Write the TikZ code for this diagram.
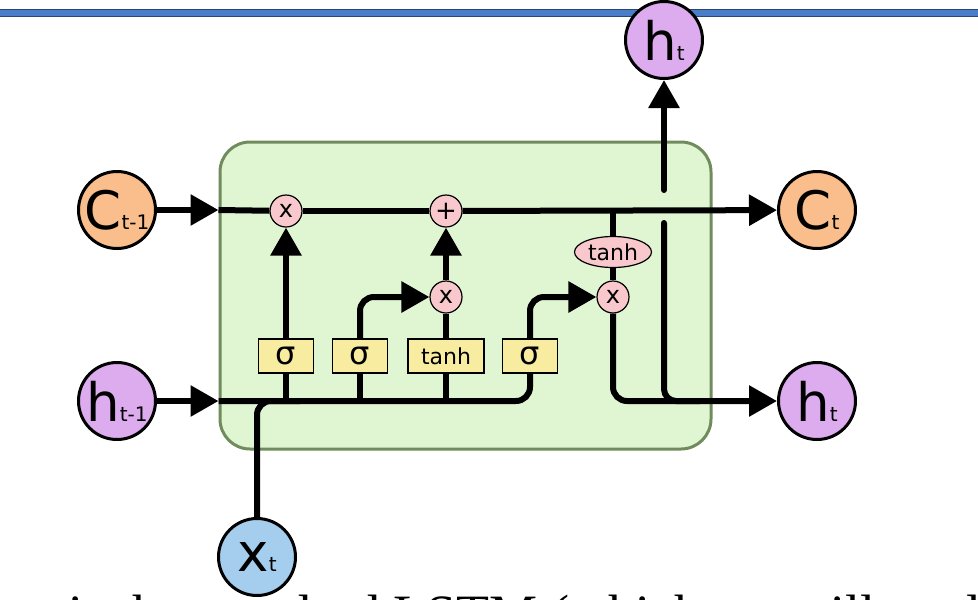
\documentclass[tikz,border=0pt]{standalone}
\usepackage{fontspec}
\setmainfont{DejaVu Sans}
\newfontfamily\capfont{Liberation Serif}
\usetikzlibrary{arrows.meta,shapes.geometric}
\definecolor{cellgreen}{RGB}{224,245,210}
\definecolor{cellborder}{RGB}{112,140,92}
\definecolor{cellorange}{RGB}{249,190,140}
\definecolor{hidpurple}{RGB}{221,172,238}
\definecolor{inblue}{RGB}{165,205,238}
\definecolor{oppink}{RGB}{248,200,205}
\definecolor{gateyellow}{RGB}{248,236,160}
\definecolor{barblue}{RGB}{74,126,200}
\definecolor{barborder}{RGB}{40,70,120}
\newcommand\BigLbl{\fontsize{53}{53}\selectfont}
\newcommand\SubLbl{\fontsize{20}{20}\selectfont}
\pgfdeclarelayer{back}
\pgfdeclarelayer{mid}
\pgfsetlayers{back,mid,main}
\begin{document}
\begin{tikzpicture}[x=1pt,y=-1pt,
  state/.style={circle, draw=black, line width=3pt, minimum size=77pt, inner sep=0pt},
  pw/.style={circle, draw=black, line width=1.2pt, fill=oppink, minimum size=32pt, inner sep=0pt, font=\fontsize{24}{24}\selectfont},
  gate/.style={rectangle, draw=black, line width=1.2pt, fill=gateyellow, minimum height=34pt, inner sep=0pt},
  flow/.style={line width=6pt},
  arr/.style={flow, -{Triangle[length=28pt,width=30pt]}},
]
\useasboundingbox (0,0) rectangle (978,600);
\clip (0,0) rectangle (978,600);

\begin{pgfonlayer}{back}
  \fill[barblue, draw=barborder, line width=0.8pt] (-2,9) rectangle (980,16);
  \node[draw=cellborder, line width=3pt, fill=cellgreen, rounded corners=30pt,
        minimum width=491pt, minimum height=307pt, inner sep=0pt] (cell) at (465.5,295.5) {};
\end{pgfonlayer}

% state circles
\node[state, fill=cellorange] (cprev) at (117,210) {\BigLbl C\SubLbl t-1};
\node[state, fill=hidpurple] (hprev) at (117,401) {\BigLbl h\SubLbl t-1};
\node[state, fill=cellorange] (cnext) at (817,210) {\BigLbl C\SubLbl t};
\node[state, fill=hidpurple] (hnext) at (817,401) {\BigLbl h\SubLbl t};
\node[state, fill=hidpurple] (htop) at (664,40) {\BigLbl h\SubLbl t};
\node[state, fill=inblue] (xin) at (257,557) {\BigLbl x\SubLbl t};

% pointwise operations
\node[pw] (fx) at (286,211) {x};
\node[pw, font=\fontsize{26}{26}\selectfont] (add) at (446,211) {+};
\node[pw] (ix) at (446,297) {x};
\node[pw] (ox) at (613,297) {x};
\node[ellipse, draw=black, line width=1.2pt, fill=oppink, minimum width=77pt, minimum height=31pt, inner sep=0pt, font=\fontsize{22}{22}\selectfont] (tanhc) at (613,252) {tanh};

% gates
\node[gate, minimum width=55pt, font=\fontsize{32}{32}\selectfont] (sf) at (286,356) {σ};
\node[gate, minimum width=55pt, font=\fontsize{32}{32}\selectfont] (si) at (360,356) {σ};
\node[gate, minimum width=76pt, font=\fontsize{22}{22}\selectfont] (tg) at (446,356) {tanh};
\node[gate, minimum width=55pt, font=\fontsize{32}{32}\selectfont] (so) at (530,356) {σ};

\coordinate (upA) at (664,223);
\coordinate (upB) at (664,190);
\coordinate (upC) at (700,401);
\coordinate (xj) at (300,401);

\begin{pgfonlayer}{mid}
  % cell state line
  \draw[arr] (cprev) -- (cell.west |- cprev);
  \draw[flow] (cell.west |- cprev) -- (fx);
  \draw[flow] (fx) -- (add);
  \draw[arr] (add) -- (cnext);
  % hidden input bus
  \draw[arr] (hprev) -- (cell.west |- hprev);
  \draw[flow, rounded corners=14pt] (cell.west |- hprev) -- (so |- hprev) -- (so);
  \draw[flow] (sf |- hprev) -- (sf);
  \draw[flow] (si |- hprev) -- (si);
  \draw[flow] (tg |- hprev) -- (tg);
  \draw[flow, rounded corners=14pt] (xin) -- (xin |- hprev) -- (xj);
  % gates to ops
  \draw[arr] (sf) -- (fx);
  \draw[arr, rounded corners=14pt] (si) -- (si |- ix) -- (ix);
  \draw[flow] (tg) -- (ix);
  \draw[arr] (ix) -- (add);
  \draw[arr, rounded corners=14pt] (so) -- (so |- ox) -- (ox);
  % output
  \draw[flow] (tanhc |- cprev) -- (tanhc);
  \draw[flow] (tanhc) -- (ox);
  \draw[arr, rounded corners=14pt] (ox) -- (ox |- hnext) -- (hnext);
  \draw[flow, line cap=round, rounded corners=12pt] (upA) -- (upA |- hnext) -- (upC);
  \draw[arr, line cap=round] (upB) -- (htop);
\end{pgfonlayer}

% cut-off caption line
\node[anchor=base west, inner sep=0pt, font=\capfont\fontsize{54}{54}\selectfont] (cap) at (68,632) {is the standard LSTM (which we will explain};
\end{tikzpicture}
\end{document}
